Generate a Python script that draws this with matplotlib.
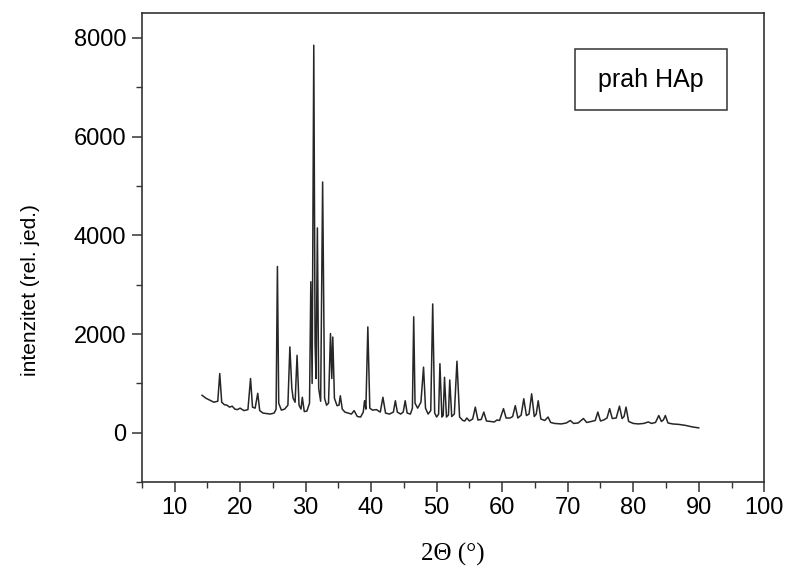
import matplotlib
import matplotlib.pyplot as plt
from matplotlib.patches import Rectangle

# XRD pattern of HAp powder
two_theta = [
    14.2, 14.8, 15.4, 16.0, 16.6, 16.9, 17.2, 17.6, 18.0, 18.4, 18.8, 19.2, 19.6, 20.0, 20.6,
    21.2, 21.6, 21.9, 22.3, 22.7, 23.0, 23.5, 24.0, 24.6, 25.2, 25.5, 25.7, 25.9, 26.3, 26.8,
    27.3, 27.6, 27.9, 28.1, 28.4, 28.7, 29.0, 29.3, 29.5, 29.8, 30.2, 30.6, 30.8, 31.0, 31.25,
    31.45, 31.6, 31.8, 32.0, 32.3, 32.6, 32.9, 33.2, 33.5, 33.8, 34.0, 34.15, 34.4, 34.8, 35.1,
    35.3, 35.6, 36.0, 36.5, 37.0, 37.4, 37.9, 38.4, 38.8, 39.0, 39.2, 39.5, 39.8, 40.2, 40.8,
    41.4, 41.8, 42.2, 42.8, 43.4, 43.7, 44.0, 44.5, 44.9, 45.2, 45.5, 46.0, 46.3, 46.5, 46.7,
    47.1, 47.6, 48.0, 48.3, 48.7, 49.1, 49.4, 49.7, 50.0, 50.3, 50.5, 50.8, 51.0, 51.2, 51.5,
    51.8, 52.0, 52.3, 52.7, 53.1, 53.5, 54.0, 54.3, 54.6, 55.0, 55.5, 55.9, 56.3, 56.8, 57.2,
    57.6, 58.2, 58.8, 59.2, 59.6, 60.2, 60.6, 61.2, 61.6, 62.0, 62.4, 62.9, 63.3, 63.7, 64.1,
    64.5, 64.9, 65.2, 65.5, 65.9, 66.5, 67.0, 67.4, 68.0, 69.0, 69.8, 70.4, 70.9, 71.6, 72.4,
    72.9, 73.6, 74.2, 74.6, 75.0, 75.5, 76.0, 76.4, 76.8, 77.4, 77.9, 78.3, 78.6, 78.9, 79.3,
    80.0, 80.8, 81.6, 82.3, 82.8, 83.4, 83.9, 84.3, 84.6, 84.9, 85.3, 86.0, 87.0, 88.0, 89.0,
    90.0,
]
intensity = [
    760, 700, 660, 620, 640, 1200, 620, 570, 560, 520, 540, 480, 470, 500, 450,
    470, 1100, 520, 500, 800, 450, 400, 390, 380, 400, 480, 3370, 600, 460, 480,
    560, 1740, 900, 700, 620, 1570, 560, 480, 720, 430, 440, 600, 3060, 1000, 7850,
    1800, 1100, 4150, 900, 640, 5080, 700, 560, 600, 2010, 1100, 1940, 700, 550, 560,
    750, 480, 420, 400, 380, 450, 330, 320, 420, 650, 480, 2145, 500, 460, 470,
    420, 720, 400, 380, 420, 650, 420, 380, 420, 650, 400, 380, 500, 2350, 600,
    500, 620, 1330, 500, 380, 450, 2610, 400, 320, 380, 1400, 320, 350, 1125, 320,
    360, 1070, 330, 380, 1450, 320, 250, 240, 300, 240, 280, 520, 260, 270, 420,
    240, 230, 220, 260, 250, 490, 300, 300, 330, 550, 300, 360, 690, 350, 380,
    790, 330, 380, 650, 280, 250, 320, 210, 190, 180, 200, 250, 190, 200, 290,
    210, 230, 250, 420, 240, 260, 300, 490, 290, 300, 540, 290, 330, 520, 230,
    190, 180, 190, 220, 190, 210, 350, 230, 260, 350, 200, 180, 170, 150, 120,
    100,
]

x_ticks = [10, 20, 30, 40, 50, 60, 70, 80, 90, 100]
y_ticks = [0, 2000, 4000, 6000, 8000]

font = {'family': 'Liberation Sans', 'size': 17}
matplotlib.rc('font', **font)

fig = plt.figure(figsize=(7.92, 5.72), dpi=100)
ax = fig.add_axes([0.179, 0.157, 0.786, 0.820])

ax.plot(two_theta, intensity, color='#262626', linewidth=1.1)

ax.set_xlim(5, 100)
ax.set_ylim(-1000, 8500)
ax.set_xticks(x_ticks)
ax.set_xticks(range(5, 100, 10), minor=True)
ax.set_yticks(y_ticks)
ax.set_yticks(range(-1000, 8500, 2000), minor=True)

ax.tick_params(which='major', direction='out', length=7, width=1.1, color='#333333', pad=4)
ax.tick_params(which='minor', direction='out', length=4, width=1.0, color='#333333')
ax.tick_params(top=False, right=False)
for s in ax.spines.values():
    s.set_linewidth(1.2)
    s.set_color('#333333')

ax.set_ylabel("intenzitet (rel. jed.)", fontsize=15)
ax.yaxis.set_label_coords(-0.163, 0.41)
ax.set_xlabel("2Θ (°)", family='Liberation Serif', fontsize=18)
ax.xaxis.set_label_coords(0.5, -0.13)

# legend box
ax.add_patch(Rectangle((0.696, 0.793), 0.244, 0.130, transform=ax.transAxes,
                       facecolor='white', edgecolor='#333333', linewidth=1.1))
ax.text(0.818, 0.857, "prah HAp", transform=ax.transAxes, ha='center', va='center',
        fontsize=18)

plt.savefig("out.png", dpi=100)
